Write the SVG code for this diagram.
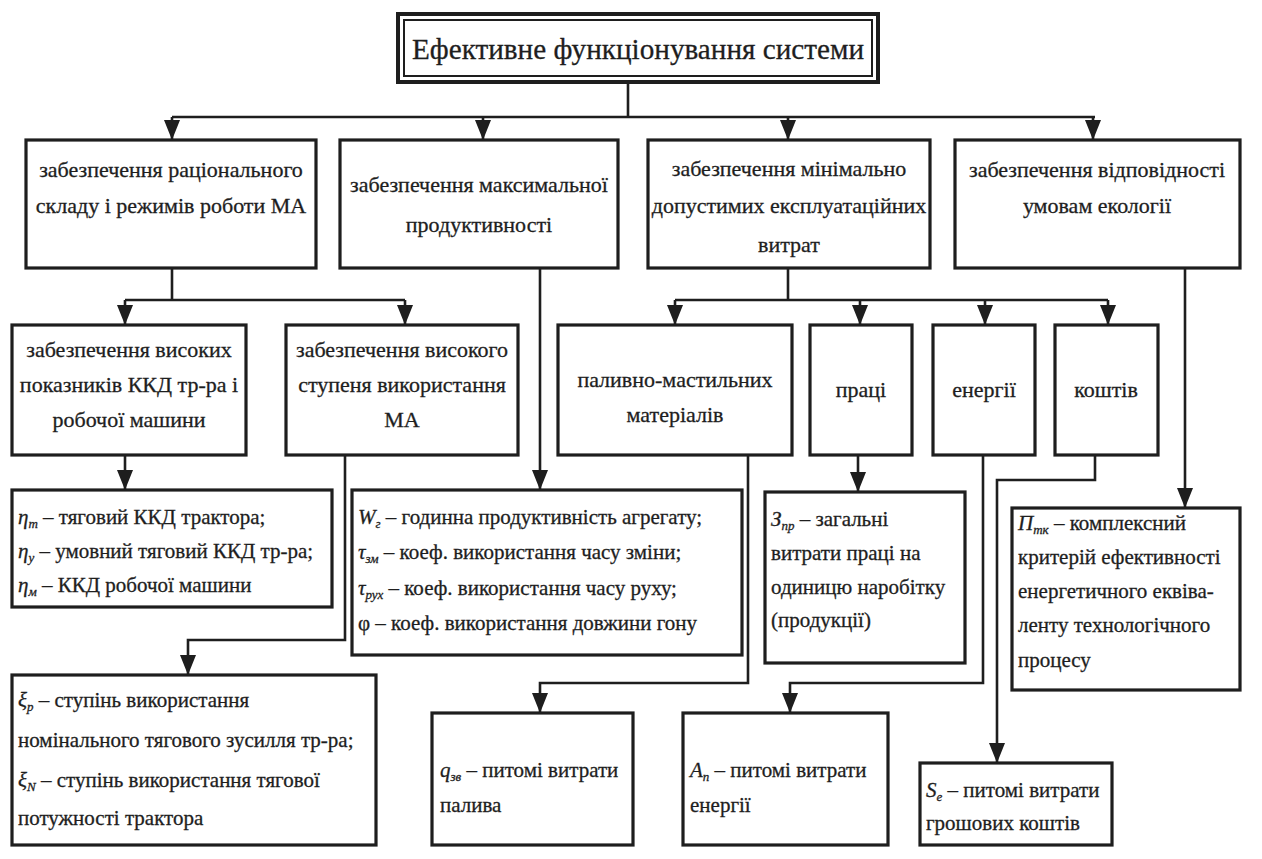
<svg xmlns="http://www.w3.org/2000/svg" width="1262" height="859" viewBox="0 0 1262 859">
<defs>
<marker id="ah" markerUnits="userSpaceOnUse" markerWidth="20" markerHeight="16" refX="20" refY="8" orient="auto">
<path d="M0,0 L20,8 L0,16 z" fill="#1e1e1e"/>
</marker>
<style>
.box{fill:#ffffff;stroke:#1e1e1e;stroke-width:3.2}
.tb{fill:none;stroke:#1e1e1e}
.c{fill:none;stroke:#1e1e1e;stroke-width:2.6}
.a{marker-end:url(#ah)}
text{font-family:"Liberation Serif","Times New Roman",serif;fill:#1e1e1e;font-size:22px;stroke:#1e1e1e;stroke-width:0.3}
.m{text-anchor:middle}
.s{font-size:21px}
.i{font-style:italic}
.sub{font-size:13px;font-style:italic}
</style>
</defs>
<rect width="1262" height="859" fill="#ffffff"/>

<g id="connectors">
<path class="c" d="M628,82 V117 M172,117 H1095"/>
<path class="c a" d="M172,117 V140"/>
<path class="c a" d="M483,117 V140"/>
<path class="c a" d="M788,117 V140"/>
<path class="c a" d="M1093,117 V140"/>
<path class="c" d="M172,268 V300 M125,300 H405"/>
<path class="c a" d="M125,300 V325"/>
<path class="c a" d="M405,300 V325"/>
<path class="c" d="M788,268 V300 M675,300 H1108"/>
<path class="c a" d="M675,300 V325"/>
<path class="c a" d="M860,300 V325"/>
<path class="c a" d="M985,300 V325"/>
<path class="c a" d="M1108,300 V325"/>
<path class="c a" d="M540,268 V490"/>
<path class="c a" d="M1185,268 V508"/>
<path class="c a" d="M125,455 V490"/>
<path class="c a" d="M345,455 V640 H188 V675"/>
<path class="c a" d="M748,455 V683 H540 V713"/>
<path class="c a" d="M858,455 V492"/>
<path class="c a" d="M983,455 V683 H790 V713"/>
<path class="c a" d="M1095,455 V480 H997 V763"/>
</g>

<g id="title">
<rect class="tb" x="398" y="14" width="480" height="68" stroke-width="4"/>
<rect class="tb" x="404" y="20" width="468" height="56" stroke-width="2"/>
<text class="m" x="638" y="59" textLength="452" lengthAdjust="spacingAndGlyphs" style="font-size:30px">Ефективне функціонування системи</text>
</g>

<g id="n-rational">
<rect class="box" x="26" y="140" width="290" height="128"/>
<text class="m" x="171" y="177">забезпечення раціонального</text>
<text class="m" x="171" y="213">складу і режимів роботи МА</text>
</g>
<g id="n-productivity">
<rect class="box" x="340" y="140" width="278" height="128"/>
<text class="m" x="479" y="192">забезпечення максимальної</text>
<text class="m" x="479" y="232">продуктивності</text>
</g>
<g id="n-costs">
<rect class="box" x="648" y="140" width="282" height="128"/>
<text class="m" x="789" y="176">забезпечення мінімально</text>
<text class="m" x="789" y="213">допустимих експлуатаційних</text>
<text class="m" x="789" y="252">витрат</text>
</g>
<g id="n-ecology">
<rect class="box" x="955" y="140" width="285" height="128"/>
<text class="m" x="1097" y="177">забезпечення відповідності</text>
<text class="m" x="1097" y="213">умовам екології</text>
</g>

<g id="n-kkd">
<rect class="box" x="12" y="325" width="234" height="130"/>
<text class="m" x="129" y="357">забезпечення високих</text>
<text class="m" x="129" y="392">показників ККД тр-ра і</text>
<text class="m" x="129" y="427">робочої машини</text>
</g>
<g id="n-usage">
<rect class="box" x="286" y="325" width="232" height="130"/>
<text class="m" x="402" y="357">забезпечення високого</text>
<text class="m" x="402" y="392">ступеня використання</text>
<text class="m" x="402" y="427">МА</text>
</g>
<g id="n-fuel">
<rect class="box" x="558" y="325" width="234" height="130"/>
<text class="m" x="675" y="387">паливно-мастильних</text>
<text class="m" x="675" y="422">матеріалів</text>
</g>
<g id="n-labour">
<rect class="box" x="810" y="325" width="102" height="130"/>
<text class="m" x="861" y="397">праці</text>
</g>
<g id="n-energy">
<rect class="box" x="933" y="325" width="102" height="130"/>
<text class="m" x="984" y="397">енергії</text>
</g>
<g id="n-money">
<rect class="box" x="1055" y="325" width="103" height="130"/>
<text class="m" x="1106" y="397">коштів</text>
</g>

<g id="n-eta">
<rect class="box" x="12" y="490" width="320" height="117"/>
<text class="s" x="18" y="524"><tspan class="i">η</tspan><tspan class="sub" dy="4">т</tspan><tspan dy="-4"> – тяговий ККД трактора;</tspan></text>
<text class="s" x="18" y="558"><tspan class="i">η</tspan><tspan class="sub" dy="4">у</tspan><tspan dy="-4"> – умовний тяговий ККД тр-ра;</tspan></text>
<text class="s" x="18" y="592"><tspan class="i">η</tspan><tspan class="sub" dy="4">м</tspan><tspan dy="-4"> – ККД робочої машини</tspan></text>
</g>
<g id="n-w">
<rect class="box" x="352" y="490" width="390" height="165"/>
<text class="s" x="358" y="524"><tspan class="i">W</tspan><tspan class="sub" dy="4">г</tspan><tspan dy="-4"> – годинна продуктивність агрегату;</tspan></text>
<text class="s" x="358" y="559"><tspan class="i">τ</tspan><tspan class="sub" dy="4">зм</tspan><tspan dy="-4"> – коеф. використання часу зміни;</tspan></text>
<text class="s" x="358" y="595"><tspan class="i">τ</tspan><tspan class="sub" dy="4">рух</tspan><tspan dy="-4"> – коеф. використання часу руху;</tspan></text>
<text class="s" x="358" y="630">φ – коеф. використання довжини гону</text>
</g>
<g id="n-zpr">
<rect class="box" x="765" y="492" width="200" height="171"/>
<text class="s" x="771" y="526"><tspan class="i">З</tspan><tspan class="sub" dy="4">пр</tspan><tspan dy="-4"> – загальні</tspan></text>
<text class="s" x="771" y="560">витрати праці на</text>
<text class="s" x="771" y="594">одиницю наробітку</text>
<text class="s" x="771" y="627">(продукції)</text>
</g>
<g id="n-ptk">
<rect class="box" x="1012" y="508" width="228" height="182"/>
<text class="s" x="1018" y="530"><tspan class="i">П</tspan><tspan class="sub" dy="4">тк</tspan><tspan dy="-4"> – комплексний</tspan></text>
<text class="s" x="1018" y="564">критерій ефективності</text>
<text class="s" x="1018" y="598">енергетичного еквіва-</text>
<text class="s" x="1018" y="632">ленту технологічного</text>
<text class="s" x="1018" y="667">процесу</text>
</g>
<g id="n-xi">
<rect class="box" x="12" y="675" width="364" height="170"/>
<text class="s" x="18" y="707"><tspan class="i">ξ</tspan><tspan class="sub" dy="4">p</tspan><tspan dy="-4"> – ступінь використання</tspan></text>
<text class="s" x="18" y="747">номінального тягового зусилля тр-ра;</text>
<text class="s" x="18" y="787"><tspan class="i">ξ</tspan><tspan class="sub" dy="4">N</tspan><tspan dy="-4"> – ступінь використання тягової</tspan></text>
<text class="s" x="18" y="825">потужності трактора</text>
</g>
<g id="n-q">
<rect class="box" x="432" y="713" width="201" height="132"/>
<text class="s" x="440" y="777"><tspan class="i">q</tspan><tspan class="sub" dy="4">зв</tspan><tspan dy="-4"> – питомі витрати</tspan></text>
<text class="s" x="440" y="812">палива</text>
</g>
<g id="n-a">
<rect class="box" x="683" y="713" width="205" height="132"/>
<text class="s" x="690" y="777"><tspan class="i">A</tspan><tspan class="sub" dy="4">п</tspan><tspan dy="-4"> – питомі витрати</tspan></text>
<text class="s" x="690" y="812">енергії</text>
</g>
<g id="n-s">
<rect class="box" x="920" y="763" width="192" height="82"/>
<text class="s" x="926" y="797"><tspan class="i">S</tspan><tspan class="sub" dy="4">е</tspan><tspan dy="-4"> – питомі витрати</tspan></text>
<text class="s" x="926" y="830">грошових коштів</text>
</g>
</svg>
